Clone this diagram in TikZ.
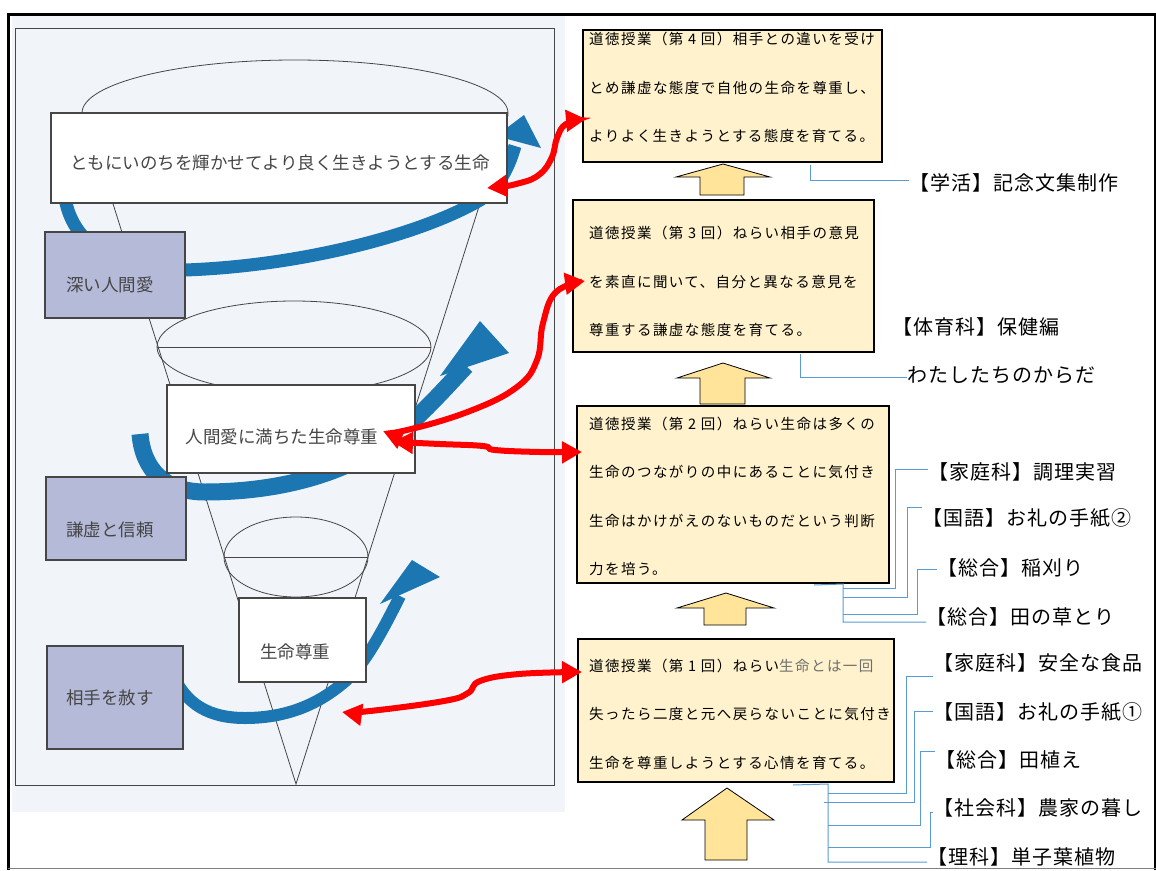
\documentclass[tikz,border=0pt]{standalone}
\usepackage{fontspec}
\setmainfont{Noto Sans CJK JP}
\newfontfamily\boxfont[LetterSpace=10]{Noto Sans CJK JP}
\newfontfamily\labfont[LetterSpace=5]{Noto Sans CJK JP}
\usetikzlibrary{arrows.meta}
\definecolor{scanbg}{RGB}{241,245,250}
\definecolor{scanline}{RGB}{70,70,70}
\definecolor{scantext}{RGB}{70,70,70}
\definecolor{lav}{RGB}{180,186,215}
\definecolor{bluear}{RGB}{27,118,178}
\definecolor{boxfill}{RGB}{255,242,204}
\definecolor{arrfill}{RGB}{255,228,153}
\definecolor{connblue}{RGB}{91,155,213}
\definecolor{redar}{RGB}{255,0,0}
\definecolor{graytext}{RGB}{110,110,110}
\begin{document}
\begin{tikzpicture}[x=1pt,y=-1pt,
 lbox/.style={draw=scanline, line width=1.3pt, fill=white, inner sep=0pt},
 lavbox/.style={lbox, fill=lav},
 sctext/.style={text=scantext, inner sep=0pt, font=\fontsize{17.5}{20}\selectfont},
 rbox/.style={draw=black, line width=2pt, fill=boxfill, inner sep=0pt},
 rtext/.style={anchor=west, align=left, inner sep=0pt, font=\boxfont\fontsize{14.5}{48.5}\selectfont},
 lab/.style={anchor=west, inner sep=0pt, font=\labfont\fontsize{20}{24}\selectfont},
 conn/.style={draw=connblue, line width=1pt},
 uparr/.style={draw=black, line width=0.8pt, fill=arrfill, line join=miter},
 bshaft/.style={draw=bluear},
 bhead/.style={fill=bluear},
 redarr/.style={draw=redar, line width=6pt, {Triangle[length=20pt,width=21pt]}-{Triangle[length=20pt,width=21pt]}},
 scanthin/.style={draw=scanline, line width=0.8pt}
]
\useasboundingbox (0,0) rectangle (1156,870);
\fill[white] (0,0) rectangle (1156,870);
% ---- scanned funnel diagram ----
\fill[scanbg] (12,16) rectangle (565,812);
\draw[scanline, line width=1pt] (15,28) rectangle (554,785);
\draw[scanthin] (295,113) ellipse [x radius=213pt, y radius=53pt];
\draw[scanthin] (294,347) ellipse [x radius=137pt, y radius=46pt];
\draw[scanthin] (157,347) -- (431,347);
\draw[scanthin] (296,557) ellipse [x radius=72pt, y radius=40pt];
\draw[scanthin] (224,557) -- (368,557);
\coordinate (apex) at (296,784);
\draw[scanthin] (85,115) -- (apex) -- (508,115);
% blue curved arrows
\draw[bshaft, line width=13pt] (64,190) .. controls (68,240) and (110,272) .. (185,270) .. controls (300,266) and (420,235) .. (480,200) .. controls (498,188) and (508,170) .. (515,146);
\fill[bhead] (496,136) -- (524,115) -- (541,148) -- cycle;
\draw[bshaft, line width=17pt] (140,434) .. controls (143,470) and (165,492) .. (205,492) .. controls (265,492) and (325,480) .. (372,452) .. controls (405,432) and (430,405) .. (466,366);
\fill[bhead] (440,376) -- (480,321) -- (509,353) -- cycle;
\draw[bshaft, line width=12pt] (172,672) .. controls (185,705) and (210,718) .. (245,718) .. controls (290,718) and (320,702) .. (342,684) .. controls (362,668) and (378,640) .. (400,596);
\fill[bhead] (380,604) -- (412,560) -- (440,577) -- cycle;
% boxes of the funnel
\node[lbox, minimum width=456pt, minimum height=90pt] (kb1) at (279,158) {};
\node[lavbox, minimum width=140pt, minimum height=86pt] (kb2) at (115,275) {};
\node[lbox, minimum width=248pt, minimum height=88pt] (kb3) at (291,429) {};
\node[lavbox, minimum width=140pt, minimum height=83pt] (kb4) at (116,518.5) {};
\node[lbox, minimum width=127pt, minimum height=84pt] (kb5) at (302.5,640) {};
\node[lavbox, minimum width=136pt, minimum height=103pt] (kb6) at (115,697.5) {};
\node[sctext] (kt1) at (280,163) {ともにいのちを輝かせてより良く生きようとする生命};
\node[sctext] (kt2) at (110,285) {深い人間愛};
\node[sctext] (kt3) at (282,437) {人間愛に満ちた生命尊重};
\node[sctext] (kt4) at (110,530) {謙虚と信頼};
\node[sctext] (kt5) at (295,652) {生命尊重};
\node[sctext] (kt6) at (110,698) {相手を赦す};
% ---- lesson boxes ----
\node[rbox, minimum width=299pt, minimum height=132pt] (b4) at (732.5,96) {};
\node[rtext] (t4) at (589,87.5) {道徳授業（第 4 回）相手との違いを受け\\とめ謙虚な態度で自他の生命を尊重し、\\よりよく生きようとする態度を育てる。};
\node[rbox, minimum width=301pt, minimum height=152pt] (b3) at (723.5,276) {};
\node[rtext] (t3) at (589,281.5) {道徳授業（第 3 回）ねらい相手の意見\\を素直に聞いて、自分と異なる意見を\\尊重する謙虚な態度を育てる。};
\node[rbox, minimum width=312pt, minimum height=177pt] (b2) at (733,494.5) {};
\node[rtext] (t2) at (589,496.5) {道徳授業（第 2 回）ねらい生命は多くの\\生命のつながりの中にあることに気付き\\生命はかけがえのないものだという判断\\力を培う。};
\node[rbox, minimum width=316pt, minimum height=143pt] (b1) at (736,710.5) {};
\node[rtext] (t1) at (589,714) {道徳授業（第 1 回）ねらい{\color{graytext}生命とは一回}\\失ったら二度と元へ戻らないことに気付き\\生命を尊重しようとする心情を育てる。};
% up arrows
\draw[uparr] (723,164) -- (770,177) -- (744,177) -- (744,195) -- (700,195) -- (700,177) -- (676,177) -- cycle;
\draw[uparr] (723,363) -- (770,378) -- (745,378) -- (745,404) -- (700,404) -- (700,378) -- (677,378) -- cycle;
\draw[uparr] (726,593) -- (774,608) -- (746,608) -- (746,625) -- (704,625) -- (704,608) -- (677,608) -- cycle;
\draw[uparr] (727,788) -- (774,820) -- (747,820) -- (747,860) -- (705,860) -- (705,820) -- (682,820) -- cycle;
% ---- subject labels ----
\node[lab] (l1) at (909,183) {【学活】記念文集制作};
\node[lab] (l2) at (892,327) {【体育科】保健編};
\node[lab] (l3) at (907,375) {わたしたちのからだ};
\node[lab] (l4) at (928,472) {【家庭科】調理実習};
\node[lab] (l5) at (922,518) {【国語】お礼の手紙②};
\node[lab] (l6) at (937,568) {【総合】稲刈り};
\node[lab] (l7) at (926,617) {【総合】田の草とり};
\node[lab] (l8) at (933,663) {【家庭科】安全な食品};
\node[lab] (l9) at (933,712) {【国語】お礼の手紙①};
\node[lab] (l10) at (935,760) {【総合】田植え};
\node[lab] (l11) at (933,808) {【社会科】農家の暮し};
\node[lab] (l12) at (927,857) {【理科】単子葉植物};
% connectors
\draw[conn] ([xshift=77.5pt,yshift=-2pt]b4.south) |- ([yshift=3pt]l1.west);
\draw[conn] ([xshift=76.5pt,yshift=-1pt]b3.south) |- ([yshift=-2pt]l3.west);
\coordinate (j2) at (843,584);
\draw[conn] ([xshift=81pt,yshift=-1pt]b2.south) -- (j2) -- (843,622) -- ([yshift=-5pt]l7.west);
\draw[conn] (843,588) -- (895,588) -- (895,469) -- ([yshift=3pt]l4.west);
\draw[conn] (843,597) -- (907,597) -- (907,507) -- ([yshift=11pt]l5.west);
\draw[conn] (843,614) -- (917,614) -- (917,569) -- ([yshift=-1pt]l6.west);
\coordinate (j1) at (828,784);
\draw[conn] ([xshift=57pt,yshift=-2pt]b1.south) -- (j1) -- (828,862) -- ([yshift=-5pt]l12.west);
\draw[conn] (828,793) -- (906,793) -- (906,676) -- ([yshift=-13pt]l8.west);
\draw[conn] (824,802) -- (914,802) -- (914,711) -- ([yshift=1pt]l9.west);
\draw[conn] (828,825) -- (920,825) -- (920,751) -- ([yshift=9pt]l10.west);
\draw[conn] (828,847) -- (930,847) -- (930,812) -- ([yshift=-4pt]l11.west);
% ---- outer frame ----
\draw[black, line width=3pt] (8,870) -- (8,14) -- (1155,14) -- (1155,870);
\draw[gray, line width=1.5pt] (8,868.5) -- (1156,868.5);
% ---- red double arrows ----
\coordinate (rA1) at (487,188);
\coordinate (rA2) at (586,119);
\coordinate (rB1) at (383,431);
\coordinate (rB2) at (585,281);
\coordinate (rC1) at (393,442);
\coordinate (rC2) at (582,452);
\coordinate (rD1) at (342,712);
\coordinate (rD2) at (582,672);
\draw[redarr] plot[smooth, tension=0.7] coordinates {(rA1) (520,183) (540,174) (552,157) (557,138) (566,124) (rA2)};
\draw[redarr] plot[smooth, tension=0.7] coordinates {(rB1) (407,430) (470,411) (517,387) (537,360) (543,323) (556,292) (rB2)};
\draw[redarr] plot[smooth, tension=0.7] coordinates {(rC1) (440,444) (483,446) (495,450) (540,452) (rC2)};
\draw[redarr] plot[smooth, tension=0.7] coordinates {(rD1) (370,711) (444,701) (468,693) (480,681) (519,674) (rD2)};
\end{tikzpicture}
\end{document}
